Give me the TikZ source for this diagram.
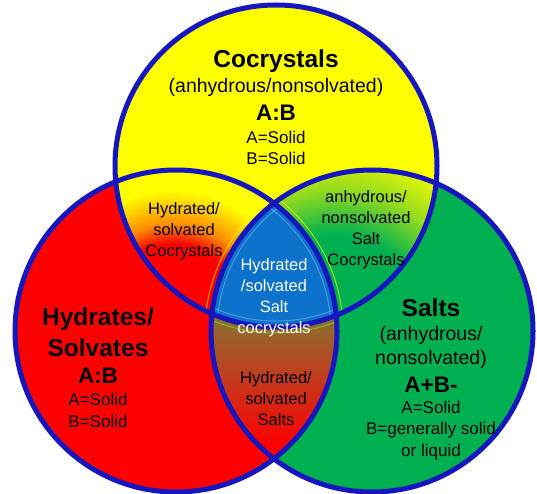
\documentclass[tikz,border=0pt]{standalone}
\usepackage{fontspec}
\setmainfont{Liberation Sans}
\usetikzlibrary{calc}
\definecolor{ringblue}{RGB}{22,22,190}
\definecolor{cyellow}{RGB}{255,255,0}
\definecolor{cred}{RGB}{255,0,0}
\definecolor{cgreen}{RGB}{0,176,80}
\definecolor{cblue}{RGB}{12,114,204}
\definecolor{corange}{RGB}{255,140,0}
\definecolor{cyelgreen}{RGB}{150,220,30}
\definecolor{olivebrown}{RGB}{140,112,52}
\definecolor{redbrown}{RGB}{205,45,25}
\pgfdeclareradialshading{redglow}{\pgfpoint{0bp}{0bp}}{color(0bp)=(cred); color(14bp)=(cred); color(18bp)=(corange); color(25bp)=(cyellow); color(50bp)=(cyellow)}
\pgfdeclareradialshading{greenglow}{\pgfpoint{0bp}{0bp}}{color(0bp)=(cgreen); color(11.5bp)=(cgreen); color(17.5bp)=(cyelgreen); color(24bp)=(cyellow); color(50bp)=(cyellow)}

\begin{document}
\begin{tikzpicture}[x=1pt, y=-1pt,
  ring/.style={draw=ringblue, line width=5pt},
  bevel/.style={line width=1pt, opacity=0.6},
  big/.style={font=\fontsize{24.5}{31}\selectfont\bfseries, align=center},
  mid/.style={font=\fontsize{19.5}{24}\selectfont, align=center},
  sym/.style={font=\fontsize{22.5}{26}\selectfont\bfseries},
  txt/.style={font=\fontsize{17}{21.5}\selectfont, align=center},
  lens/.style={font=\fontsize{16.5}{21}\selectfont, align=center}]
  \useasboundingbox (0,0) rectangle (537,494);
  \def\rad{161}
  \coordinate (ctop) at (276,166);
  \coordinate (cleft) at (176,331);
  \coordinate (cright) at (372,331);
  \coordinate (redspot) at (172,312);
  \coordinate (greenspot) at (335,322);
  \fill[cred] (cleft) circle (\rad);
  \fill[cgreen] (cright) circle (\rad);
  \fill[cyellow] (ctop) circle (\rad);
  \begin{scope}
    \clip (ctop) circle (\rad);
    \clip (cleft) circle (\rad);
    \shade[shading=redglow] (redspot) circle (122);
    \draw[bevel, cyellow] (cright) circle (\rad+6);
  \end{scope}
  \begin{scope}
    \clip (ctop) circle (\rad);
    \clip (cright) circle (\rad);
    \shade[shading=greenglow] (greenspot) circle (190);
    \draw[bevel, cyellow] (cleft) circle (\rad+6);
  \end{scope}
  \begin{scope}
    \clip (cleft) circle (\rad);
    \clip (cright) circle (\rad);
    \fill[cred] (200,300) rectangle (350,470);
    \shade[top color=olivebrown, middle color=redbrown, bottom color=cred] (205,318) rectangle (345,445);
    \draw[bevel, green!60!yellow] (ctop) circle (\rad+6);
  \end{scope}
  \begin{scope}
    \clip (ctop) circle (\rad);
    \clip (cleft) circle (\rad);
    \clip (cright) circle (\rad);
    \fill[cblue] (200,190) rectangle (350,340);
    \draw[bevel, white!45!cblue] (ctop) circle (\rad-6);
    \draw[bevel, white!45!cblue] (cleft) circle (\rad-6);
    \draw[bevel, white!45!cblue] (cright) circle (\rad-6);
  \end{scope}
  \draw[ring] (cleft) circle (\rad);
  \draw[ring] (cright) circle (\rad);
  \draw[ring] (ctop) circle (\rad);
  \node[big] (cocr) at (276,61) {Cocrystals};
  \node[mid] (cocrsub) at (276,87) {(anhydrous/nonsolvated)};
  \node[sym] (cocrab) at (276,113) {A:B};
  \node[txt] (cocrsolid) at (276,148) {A=Solid\\B=Solid};
  \node[big] (hydr) at (98,332) {Hydrates/\\Solvates};
  \node[sym] (hydrab) at (98,376) {A:B};
  \node[txt] (hydrsolid) at (98,410.5) {A=Solid\\B=Solid};
  \node[big] (salt) at (431,307.5) {Salts};
  \node[mid] (saltsub) at (431,347) {(anhydrous/\\nonsolvated)};
  \node[sym] (saltab) at (431,385) {A+B-};
  \node[txt] (saltsolid) at (431,430.5) {A=Solid\\B=generally solid\\or liquid};
  \node[lens] (hydcocr) at (184,231.5) {Hydrated/\\solvated\\Cocrystals};
  \node[lens] (anhsalt) at (366,230) {anhydrous/\\nonsolvated\\Salt\\Cocrystals};
  \node[lens, text=white] (hydsaltcocr) at (274,297.5) {Hydrated\\/solvated\\Salt\\cocrystals};
  \node[lens] (hydsalt) at (276,399) {Hydrated/\\solvated\\Salts};
\end{tikzpicture}
\end{document}
